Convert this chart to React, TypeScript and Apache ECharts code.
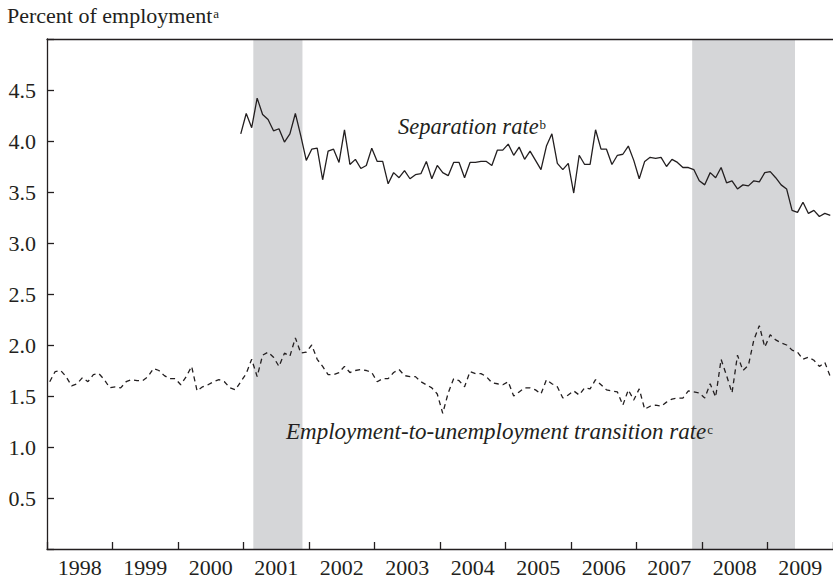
import React, { useEffect, useRef } from 'react';
import * as echarts from 'echarts';

// X-axis year labels (centred within each year)
const yearLabels = ['1998', '1999', '2000', '2001', '2002', '2003', '2004', '2005', '2006', '2007', '2008', '2009'];

// Recession periods (fractional years)
const recessionStarts = [2001.15, 2007.85];
const recessionEnds = [2001.9, 2009.42];

// Separation rate, monthly, starting December 2000
const sepStartYear = 2000;
const sepStartMonth = 12;
const sepValues = [
  4.07, 4.27, 4.13, 4.42, 4.26, 4.21, 4.10, 4.12, 3.99, 4.07,
  4.27, 4.05, 3.81, 3.92, 3.93, 3.62, 3.90, 3.92, 3.79, 4.11,
  3.77, 3.82, 3.73, 3.76, 3.93, 3.80, 3.80, 3.58, 3.69, 3.64,
  3.71, 3.63, 3.67, 3.68, 3.80, 3.63, 3.76, 3.69, 3.66, 3.79,
  3.79, 3.64, 3.79, 3.79, 3.80, 3.80, 3.76, 3.91, 3.91, 3.97,
  3.86, 3.94, 3.82, 3.90, 3.81, 3.72, 3.95, 4.07, 3.78, 3.72,
  3.78, 3.49, 3.86, 3.77, 3.77, 4.11, 3.92, 3.92, 3.77, 3.86,
  3.87, 3.95, 3.81, 3.63, 3.80, 3.84, 3.83, 3.84, 3.75, 3.82,
  3.79, 3.74, 3.74, 3.72, 3.61, 3.57, 3.69, 3.64, 3.74, 3.59,
  3.61, 3.53, 3.57, 3.56, 3.61, 3.60, 3.69, 3.70, 3.64, 3.57,
  3.53, 3.32, 3.30, 3.40, 3.29, 3.32, 3.26, 3.29, 3.27,
];

// Employment-to-unemployment transition rate, monthly, starting January 1998
const euStartYear = 1998;
const euStartMonth = 1;
const euValues = [
  1.64, 1.74, 1.75, 1.69, 1.60, 1.62, 1.68, 1.64, 1.71, 1.72, 1.66, 1.58,
  1.59, 1.58, 1.64, 1.66, 1.65, 1.65, 1.69, 1.77, 1.75, 1.70, 1.67, 1.67,
  1.61, 1.69, 1.79, 1.55, 1.59, 1.61, 1.64, 1.66, 1.64, 1.58, 1.56, 1.64,
  1.72, 1.86, 1.69, 1.90, 1.93, 1.88, 1.79, 1.92, 1.89, 2.07, 1.92, 1.93,
  2.00, 1.86, 1.79, 1.71, 1.71, 1.73, 1.79, 1.73, 1.75, 1.76, 1.75, 1.73,
  1.64, 1.67, 1.67, 1.73, 1.76, 1.70, 1.69, 1.69, 1.64, 1.61, 1.58, 1.52,
  1.33, 1.53, 1.67, 1.65, 1.59, 1.74, 1.72, 1.72, 1.69, 1.63, 1.62, 1.61,
  1.64, 1.50, 1.54, 1.58, 1.58, 1.56, 1.52, 1.66, 1.62, 1.59, 1.48, 1.51,
  1.55, 1.51, 1.58, 1.57, 1.66, 1.61, 1.56, 1.55, 1.54, 1.41, 1.56, 1.46,
  1.57, 1.37, 1.40, 1.41, 1.40, 1.44, 1.47, 1.48, 1.48, 1.55, 1.54, 1.53,
  1.48, 1.62, 1.49, 1.86, 1.70, 1.53, 1.90, 1.75, 1.80, 2.05, 2.19, 1.98,
  2.10, 2.05, 2.02, 2.00, 1.95, 1.93, 1.86, 1.88, 1.85, 1.79, 1.83, 1.69,
];

const titleText = 'Percent of employment';
const titleNote = 'a';
const sepLabel = 'Separation rate';
const sepNote = 'b';
const euLabel = 'Employment-to-unemployment transition rate';
const euNote = 'c';

const toPoints = (startYear: number, startMonth: number, values: number[]) =>
  values.map((v, i) => [startYear + (startMonth - 1 + i + 0.5) / 12, v]);

const INK = '#231f20';
const FONT = "'Liberation Serif', 'Times New Roman', serif";

export default function App() {
  const ref = useRef<HTMLDivElement>(null);

  useEffect(() => {
    document.body.style.margin = '0';
    if (!ref.current) return;
    const chart = echarts.init(ref.current, undefined, { renderer: 'svg' });

    const axisLineStyle = { color: INK, width: 1.3 };
    const supText = (x: number, y: number, main: string, note: string, size: number, italic: boolean) => ({
      type: 'text',
      x,
      y,
      z: 100,
      style: {
        text: `{m|${main}}{s|${note}}`,
        fontFamily: FONT,
        fill: INK,
        verticalAlign: 'middle',
        align: 'left',
        rich: {
          m: { fontSize: size, fontStyle: italic ? 'italic' : 'normal', fontFamily: FONT, fill: INK },
          s: { fontSize: 13, fontFamily: FONT, fill: INK, padding: [0, 0, 4, 1] },
        },
      },
    });

    chart.setOption({
      animation: false,
      backgroundColor: '#ffffff',
      textStyle: { fontFamily: FONT, color: INK },
      grid: { left: 47, top: 39, width: 790, height: 510, containLabel: false },
      xAxis: [
        {
          type: 'value',
          min: 1998,
          max: 2010,
          interval: 1,
          position: 'bottom',
          z: 10,
          axisLine: { show: true, onZero: false, lineStyle: axisLineStyle },
          axisTick: { show: true, inside: true, length: 7, lineStyle: axisLineStyle },
          axisLabel: { show: false },
          splitLine: { show: false },
        },
        {
          type: 'category',
          data: yearLabels,
          position: 'bottom',
          offset: 0,
          boundaryGap: true,
          axisLine: { show: false, onZero: false },
          axisTick: { show: false },
          axisLabel: { show: true, fontSize: 22, fontFamily: FONT, color: INK, margin: 7, interval: 0 },
          splitLine: { show: false },
        },
        {
          type: 'value',
          min: 1998,
          max: 2010,
          position: 'top',
          z: 10,
          axisLine: { show: true, onZero: false, lineStyle: axisLineStyle },
          axisTick: { show: false },
          axisLabel: { show: false },
          splitLine: { show: false },
        },
      ],
      yAxis: {
        type: 'value',
        min: 0,
        max: 5,
        interval: 0.5,
        z: 10,
        axisLine: { show: true, onZero: false, lineStyle: axisLineStyle },
        axisTick: { show: true, inside: true, length: 7, lineStyle: axisLineStyle },
        axisLabel: {
          fontSize: 22,
          fontFamily: FONT,
          color: INK,
          margin: 11,
          formatter: (v: number) => (v <= 0 || v >= 5 ? '' : v.toFixed(1)),
        },
        splitLine: { show: false },
      },
      series: [
        {
          type: 'line',
          name: 'recessions',
          xAxisIndex: 0,
          yAxisIndex: 0,
          data: [],
          z: 1,
          silent: true,
          markArea: {
            silent: true,
            itemStyle: { color: '#d5d6d8' },
            data: recessionStarts.map((s, i) => [{ xAxis: s }, { xAxis: recessionEnds[i] }]),
          },
        },
        {
          type: 'line',
          name: sepLabel,
          xAxisIndex: 0,
          yAxisIndex: 0,
          data: toPoints(sepStartYear, sepStartMonth, sepValues),
          showSymbol: false,
          z: 5,
          lineStyle: { color: INK, width: 1.3, type: 'solid' },
        },
        {
          type: 'line',
          name: euLabel,
          xAxisIndex: 0,
          yAxisIndex: 0,
          data: toPoints(euStartYear, euStartMonth, euValues),
          showSymbol: false,
          z: 5,
          lineStyle: { color: INK, width: 1.3, type: [5, 4] },
        },
      ],
      graphic: {
        elements: [
          supText(7, 15, titleText, titleNote, 22, false),
          supText(398, 126, sepLabel, sepNote, 22.5, true),
          supText(286, 431, euLabel, euNote, 23, true),
        ],
      },
    });

    return () => chart.dispose();
  }, []);

  return <div ref={ref} style={{ width: 833, height: 581 }} />;
}
